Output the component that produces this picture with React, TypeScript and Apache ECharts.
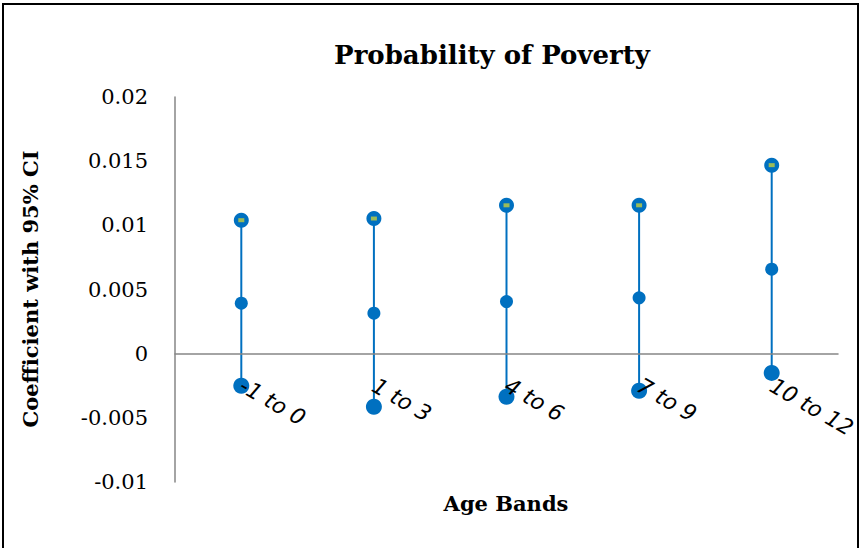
import React, { useEffect, useRef } from "react";
import * as echarts from "echarts";

const categories = ["-1 to 0", "1 to 3", "4 to 6", "7 to 9", "10 to 12"];
const upper = [0.0104, 0.01053, 0.01156, 0.01156, 0.01469];
const coef = [0.00393, 0.00315, 0.00406, 0.00435, 0.00658];
const lower = [-0.0025, -0.00414, -0.00336, -0.00289, -0.0015];

const titleText = "Probability of Poverty";
const xName = "Age Bands";
const yName = "Coefficient with 95% CI";

const yMin = -0.01;
const yMax = 0.02;
const yStep = 0.005;

export default function App() {
  const ref = useRef<HTMLDivElement>(null);
  useEffect(() => {
    document.body.style.margin = "0";
    const chart = echarts.init(ref.current!, null, { renderer: "svg" });
    const blue = "#0070C0";
    const gridTop = 97;
    const gridBottom = 66;
    const plotH = 548 - gridTop - gridBottom;
    const zeroY = gridTop + (plotH * yMax) / (yMax - yMin);
    const xOffset = -(548 - gridBottom - zeroY);
    chart.setOption({
      animation: false,
      backgroundColor: "#fff",
      grid: { left: 175, right: 24, top: gridTop, bottom: gridBottom, containLabel: false, outerBoundsMode: "none" },
      graphic: [
        {
          type: "rect",
          shape: { x: 3, y: 4, width: 855, height: 550 },
          style: { fill: "none", stroke: "#000", lineWidth: 2 },
          silent: true,
        },
        {
          type: "text",
          x: 492,
          y: 55,
          style: {
            text: titleText,
            align: "center",
            verticalAlign: "middle",
            font: "bold 26px 'DejaVu Serif'",
            fill: "#000",
          },
        },
        {
          type: "text",
          x: 506,
          y: 503,
          style: {
            text: xName,
            align: "center",
            verticalAlign: "middle",
            font: "bold 21px 'DejaVu Serif'",
            fill: "#000",
          },
        },
        {
          type: "text",
          x: 30,
          y: 289,
          rotation: Math.PI / 2,
          style: {
            text: yName,
            align: "center",
            verticalAlign: "middle",
            font: "bold 21px 'DejaVu Serif'",
            fill: "#000",
          },
        },
      ],
      xAxis: {
        type: "category",
        data: categories,
        boundaryGap: true,
        z: 10,
        offset: xOffset,
        axisLine: { onZero: false, lineStyle: { color: "#868686", width: 1.5 } },
        axisTick: { show: false },
        axisLabel: {
          rotate: -30,
          margin: 30,
          interval: 0,
          fontSize: 22,
          fontStyle: "italic",
          fontFamily: "DejaVu Sans",
          color: "#000",
        },
      },
      yAxis: {
        type: "value",
        min: yMin,
        max: yMax,
        interval: yStep,
        axisLine: { show: true, lineStyle: { color: "#868686", width: 1.5 } },
        axisTick: { show: false },
        splitLine: { show: false },
        axisLabel: { fontFamily: "DejaVu Serif", fontSize: 21, color: "#000", margin: 27 },
      },
      series: [
        {
          type: "custom",
          z: 2,
          data: categories.map((c, i) => [i, lower[i], upper[i]]),
          encode: { x: 0, y: [1, 2] },
          renderItem: (params: any, api: any) => {
            const i = api.value(0);
            const lo = api.coord([i, api.value(1)]);
            const hi = api.coord([i, api.value(2)]);
            return {
              type: "line",
              shape: { x1: lo[0], y1: lo[1], x2: hi[0], y2: hi[1] },
              style: { stroke: blue, lineWidth: 2 },
            };
          },
        },
        {
          type: "scatter",
          z: 3,
          symbol: "circle",
          symbolSize: 15,
          itemStyle: { color: blue, opacity: 1 },
          data: upper,
        },
        {
          type: "scatter",
          z: 3,
          symbol: "circle",
          symbolSize: 13,
          itemStyle: { color: blue, opacity: 1 },
          data: coef,
        },
        {
          type: "scatter",
          z: 3,
          symbol: "circle",
          symbolSize: 16,
          itemStyle: { color: blue, opacity: 1 },
          data: lower,
        },
        {
          type: "scatter",
          z: 4,
          symbol: "rect",
          symbolSize: [6, 4],
          itemStyle: { color: "#9BBB59", opacity: 1 },
          data: upper,
        },
      ],
    });
    return () => chart.dispose();
  }, []);
  return <div ref={ref} style={{ position: "absolute", left: 0, top: 0, width: 862, height: 548 }} />;
}
